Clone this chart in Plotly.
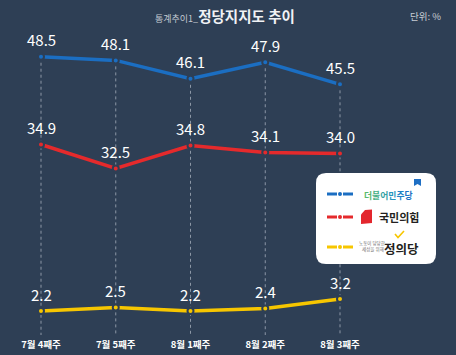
import plotly.graph_objects as go

# ---------------- data ----------------
weeks = ["7월 4째주", "7월 5째주", "8월 1째주", "8월 2째주", "8월 3째주"]
minjoo = [48.5, 48.1, 46.1, 47.9, 45.5]     # 더불어민주당
ppp = [34.9, 32.5, 34.8, 34.1, 34.0]        # 국민의힘
justice = [2.2, 2.5, 2.2, 2.4, 3.2]         # 정의당

# ---------------- style ----------------
BG = "#2e3f55"
BLUE = "#1b6ec2"
RED = "#e52a2c"
YELLOW = "#f7c600"
GRID = "#8c97a6"
FONT = "Noto Sans CJK KR"

W, H = 456, 355
MB = 20
PH = H - MB


def xp(p):
    return p / W


def yp(p):
    return 1 - p / PH


# x scale: first category centre at 41px, step 74.75px
X0, XSTEP = 41.0, 74.75
xrange = [-X0 / XSTEP, (W - X0) / XSTEP]


def yrange(anchor_val, anchor_px, scale):
    return [anchor_val - (PH - anchor_px) / scale, anchor_val + anchor_px / scale]


r_blue = yrange(47.22, 68.5, 9.2)
r_red = yrange(34.06, 152.9, 10.0)
r_yel = yrange(2.2, 311.0, 12.0)

xs = list(range(len(weeks)))

fig = go.Figure()

# dashed vertical guide lines from the top series down to the axis
gx, gy = [], []
for i, v in zip(xs, minjoo):
    gx += [i, i, None]
    gy += [v, r_blue[0], None]
fig.add_trace(go.Scatter(x=gx, y=gy, mode="lines", yaxis="y",
                         line=dict(color=GRID, width=1, dash="3px,3px"),
                         hoverinfo="skip"))

series = [(minjoo, BLUE, "y"), (ppp, RED, "y2"), (justice, YELLOW, "y3")]
annotations = []
for vals, color, ax in series:
    fig.add_trace(go.Scatter(
        x=xs, y=vals, yaxis=ax, mode="lines+markers", cliponaxis=False,
        line=dict(color=color, width=3.5),
        marker=dict(size=6, color=color, line=dict(color=BG, width=2)),
        hoverinfo="skip"))
    for i, v in zip(xs, vals):
        annotations.append(dict(
            x=i, y=v, xref="x", yref=ax, text=f"{v:.1f}", showarrow=False,
            xanchor="center", yanchor="middle",
            yshift=17, font=dict(color="white", size=15, family=FONT)))


def txt(x, y, text, size, color, xanchor="center", **kw):
    return dict(x=xp(x), y=yp(y), xref="paper", yref="paper", showarrow=False,
                xanchor=xanchor, yanchor="middle", text=text,
                font=dict(size=size, color=color, family=FONT, **kw))


# title and unit
annotations.append(txt(225, 15,
                       "<span style='font-size:9px;color:#c3c9d1'>통계추이1_</span><b>정당지지도 추이</b>",
                       14.5, "#f0f2f5"))
annotations.append(txt(425, 16, "단위: %", 9.5, "#c8cdd4"))

# ---------------- legend box ----------------
def P(x, y):
    return f"{xp(x)},{yp(y)}"


def rrect(x0, y0, x1, y1, r):
    return (f"M {P(x0 + r, y0)} L {P(x1 - r, y0)} Q {P(x1, y0)} {P(x1, y0 + r)} "
            f"L {P(x1, y1 - r)} Q {P(x1, y1)} {P(x1 - r, y1)} "
            f"L {P(x0 + r, y1)} Q {P(x0, y1)} {P(x0, y1 - r)} "
            f"L {P(x0, y0 + r)} Q {P(x0, y0)} {P(x0 + r, y0)} Z")


shapes = [dict(type="path", xref="paper", yref="paper", layer="above",
               path=rrect(316, 173, 436, 264, 10),
               fillcolor="white", line=dict(width=0))]

for ry, color in [(194, BLUE), (217, RED), (247, YELLOW)]:
    for a, b in [(327, 337), (343, 353)]:
        shapes.append(dict(type="line", xref="paper", yref="paper", layer="above",
                           x0=xp(a), x1=xp(b), y0=yp(ry), y1=yp(ry),
                           line=dict(color=color, width=3)))
    shapes.append(dict(type="circle", xref="paper", yref="paper", layer="above",
                       x0=xp(338), x1=xp(342), y0=yp(ry - 2), y1=yp(ry + 2),
                       fillcolor=color, line=dict(width=0)))

# small flag icon of 더불어민주당
shapes.append(dict(type="path", xref="paper", yref="paper", layer="above",
                   path=f"M {P(414, 179)} L {P(421, 179)} L {P(421, 186)} L {P(417.5, 184)} L {P(414, 186)} Z",
                   fillcolor="#1f6fc4", line=dict(width=0)))
# red mark of 국민의힘
shapes.append(dict(type="path", xref="paper", yref="paper", layer="above",
                   path=f"M {P(365, 210)} L {P(372, 209.5)} L {P(372, 223)} L {P(361, 224)} L {P(361, 214.5)} Z",
                   fillcolor="#e3262d", line=dict(width=0)))
# yellow check of 정의당
shapes.append(dict(type="path", xref="paper", yref="paper", layer="above",
                   path=f"M {P(395, 234)} L {P(398, 237.5)} L {P(404, 231)}",
                   line=dict(color=YELLOW, width=1.6)))

dm_colors = ["#58b96b", "#45b086", "#33a3a3", "#2794bd", "#2183c6", "#1b72c5"]
dm_text = "".join(f"<span style='color:{c}'>{ch}</span>" for ch, c in zip("더불어민주당", dm_colors))
annotations.append(txt(362, 195, f"<b>{dm_text}</b>", 8.8, "#1b72c5", xanchor="left"))
annotations.append(txt(377, 217, "<b>국민의힘</b>", 11, "#231f20", xanchor="left"))
annotations.append(txt(357, 246, "노동이 당당한<br>  세상을 위해", 4.5, "#6e6e6e", xanchor="left"))
annotations.append(txt(382, 248, "<b>정의당</b>", 12.5, "#231f20", xanchor="left"))

fig.update_layout(
    width=W, height=H,
    margin=dict(l=0, r=0, t=0, b=MB, pad=0),
    paper_bgcolor=BG, plot_bgcolor=BG,
    showlegend=False,
    font=dict(family=FONT),
    xaxis=dict(range=xrange, tickmode="array", tickvals=xs, ticktext=weeks,
               showgrid=False, zeroline=False, showline=False, ticks="",
               ticklabelstandoff=2,
               tickfont=dict(color="white", size=9.5, family=FONT, weight="bold"),
               fixedrange=True),
    yaxis=dict(range=r_blue, visible=False, fixedrange=True),
    yaxis2=dict(range=r_red, overlaying="y", visible=False, fixedrange=True),
    yaxis3=dict(range=r_yel, overlaying="y", visible=False, fixedrange=True),
    shapes=shapes,
    annotations=annotations,
)

fig.write_html("out.html", config={"displayModeBar": False},
               post_script="document.body.style.margin='0';document.body.style.overflow='hidden';")
